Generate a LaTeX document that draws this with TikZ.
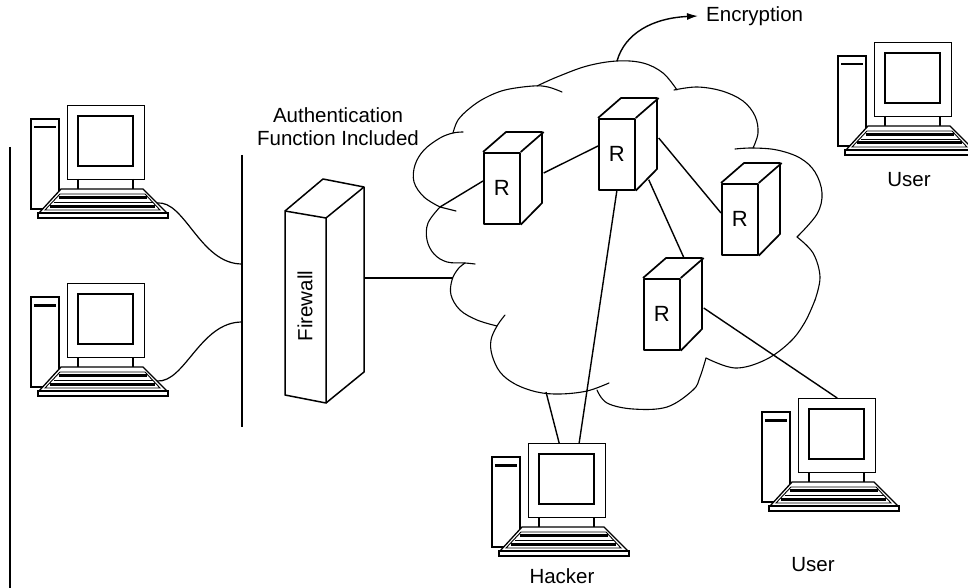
\documentclass[tikz,border=0pt]{standalone}
\usepackage{fontspec}
\setmainfont{Liberation Sans}
\usetikzlibrary{arrows.meta}

\tikzset{
  pcline/.style={line width=1.3pt, line join=miter},
  boxline/.style={line width=1.7pt, line join=round},
  fwline/.style={line width=1.5pt, line join=round},
  link/.style={line width=1.4pt},
  wire/.style={line width=1.2pt},
  cloudline/.style={line width=1.1pt, line cap=round, line join=round},
  busline/.style={line width=2.4pt},
  lbl/.style={font=\fontsize{20.5}{23}\selectfont, inner sep=0pt},
  rfront/.style={draw, boxline, minimum width=36pt, minimum height=71pt,
    inner sep=0pt, anchor=north west, font=\fontsize{22}{24}\selectfont},
  monitor/.style={draw, pcline, minimum width=77pt, minimum height=74pt,
    inner sep=0pt, anchor=north west},
  % desktop computer: tower, monitor and keyboard; origin = monitor top left
  computer/.pic={
    \draw[pcline] (-36,14) rectangle (-8,104);
    \fill (-33,21) rectangle (-11,23.5);
    \node[monitor] (-mon) at (0,0) {};
    \draw[pcline] (11,11) rectangle (66,61);
    \draw[pcline] (11,74) -- (11,84) (66,74) -- (66,84);
    \draw[pcline, fill=white] (-6,84) -- (76,84) -- (100,108) -- (-28,108) -- cycle;
    \draw[pcline, fill=white] (-29,108) rectangle (101,113);
    \draw[line width=0.9pt] (-7,89) -- (78,89) -- (93,105) -- (-22,105) -- cycle;
    \draw[line width=3pt] (-8.5,92.5) -- (79.5,92.5);
    \draw[line width=0.9pt] (-13.5,97) -- (85.5,97);
    \draw[line width=3pt] (-17,101) -- (88,101);
    \coordinate (-kb) at (90,98);
  },
  % router box drawn in perspective; origin = front face top left
  router/.pic={
    \node[rfront] (-f) at (0,0) {R};
    \draw[boxline] (-f.north west) -- ++(23,-20) -- ++(36,0) -- ++(0,71) -- (-f.south east);
    \draw[boxline] (-f.north east) -- ++(23,-20);
  },
}

\begin{document}
\begin{tikzpicture}[x=1pt, y=-1pt]
\useasboundingbox (0,0) rectangle (968,588);

% LAN segments
\coordinate (lanL-top) at (10,147);
\coordinate (lanL-bot) at (10,588);
\draw[busline] (lanL-top) -- (lanL-bot);
\coordinate (bus-top) at (242,155);
\coordinate (bus-bot) at (242,427);
\draw[busline] (bus-top) -- (bus-bot);
\coordinate (tap1) at (242,264);
\coordinate (tap2) at (242,322);

% computers
\pic (pc1) at (67,105) {computer};
\pic (pc2) at (67,283) {computer};
\pic (hk) at (528,443) {computer};
\pic (u1) at (874,42) {computer};
\pic (u2) at (798,398) {computer};

\draw[wire] (pc1-kb) .. controls +(28,-3) and +(-42,0) .. (tap1);
\draw[wire] (pc2-kb) .. controls +(28,2) and +(-42,0) .. (tap2);

% firewall
\draw[fwline] (285,211) -- (326,218) -- (326,403) -- (285,395) -- cycle;
\draw[fwline] (285,211) -- (323,179) -- (364,187) -- (326,218);
\draw[fwline] (364,187) -- (364,372) -- (326,403);
\node[lbl, rotate=90] (fw) at (305,306) {Firewall};
\coordinate (fw-e) at (364,278);

\node[lbl, align=center] (auth) at (338,127) {Authentication\\Function Included};

% cloud outline, one scallop at a time
\draw[cloudline] plot[smooth, tension=0.6] coordinates {(440,207) (424,197) (414,182) (415,165) (424,150) (440,138) (453,133) (463,132)};
\draw[cloudline] (440,207) -- (456,211);
\draw[cloudline] plot[smooth, tension=0.6] coordinates {(453,133) (458,120) (470,108) (485,98) (505,90) (533,86) (548,87) (562,92)};
\draw[cloudline] plot[smooth, tension=0.6] coordinates {(537,86) (557,77) (587,66) (617,61) (643,63) (663,73) (677,90)};
\draw[cloudline] plot[smooth, tension=0.6] coordinates {(674,90) (697,87) (722,91) (743,101) (755,116) (758,133) (753,148)};
\draw[cloudline] plot[smooth, tension=0.6] coordinates {(735,149) (753,148) (777,150) (800,158) (815,172) (822,193) (817,214) (797,237)};
\draw[cloudline] plot[smooth, tension=0.6] coordinates {(797,237) (813,253) (820,277) (815,300)};
\draw[cloudline] plot[smooth, tension=0.6] coordinates {(815,300) (805,322) (790,342) (765,360) (735,368) (706,358)};
\draw[cloudline] plot[smooth, tension=0.6] coordinates {(706,358) (700,377) (693,390) (667,407) (633,409) (607,403) (597,390)};
\draw[cloudline] plot[smooth, tension=0.6] coordinates {(505,315) (497,326) (491,340) (492,355) (500,372) (515,384) (537,392) (560,394) (587,391) (609,383)};
\draw[cloudline] plot[smooth, tension=0.6] coordinates {(497,326) (477,320) (460,310) (451,295) (452,280) (458,269) (465,263)};
\draw[cloudline] plot[smooth, tension=0.6] coordinates {(475,264) (465,263) (447,262) (434,254) (427,240) (428,223) (440,207)};
\coordinate (cl-nw) at (440,207);
\coordinate (cl-w) at (453,278);
\coordinate (cl-s) at (546,392);
\coordinate (cl-top) at (617,61);

% routers
\pic (r1) at (483,152) {router};
\pic (r2) at (598,118) {router};
\pic (r3) at (721,183) {router};
\pic (r4) at (643,278) {router};

% links
\draw[link] (fw-e) -- (cl-w);
\draw[link] (cl-nw) -- ([yshift=-29pt]r1-f.north west);
\draw[link] ([xshift=23pt,yshift=-21pt]r1-f.north east) -- ([yshift=-28pt]r2-f.north west);
\draw[link] ([xshift=23pt,yshift=-20pt]r2-f.north east) -- ([yshift=-30pt]r3-f.north west);
\draw[link] ([xshift=13pt,yshift=11pt]r2-f.south east) -- ([xshift=41pt,yshift=20pt]r4-f.north west);
\draw[link] (r2-f.south) -- ([xshift=12pt]hk-mon.north);
\draw[link] (cl-s) -- ([xshift=-8pt]hk-mon.north);
\draw[link] ([xshift=23pt,yshift=-30pt]r4-f.north east) -- (u2-mon.north);

% encryption marker
\node[lbl, anchor=west] (enc) at (706,16) {Encryption};
\draw[link, -{Latex[length=11pt,width=7pt]}] (cl-top) .. controls +(8,-28) and +(-45,2) .. ([xshift=-8pt]enc.west);

% labels
\node[lbl] (u1-label) at (909,180) {User};
\node[lbl] (u2-label) at (813,565) {User};
\node[lbl] (hk-label) at (562,576) {Hacker};
\end{tikzpicture}
\end{document}
